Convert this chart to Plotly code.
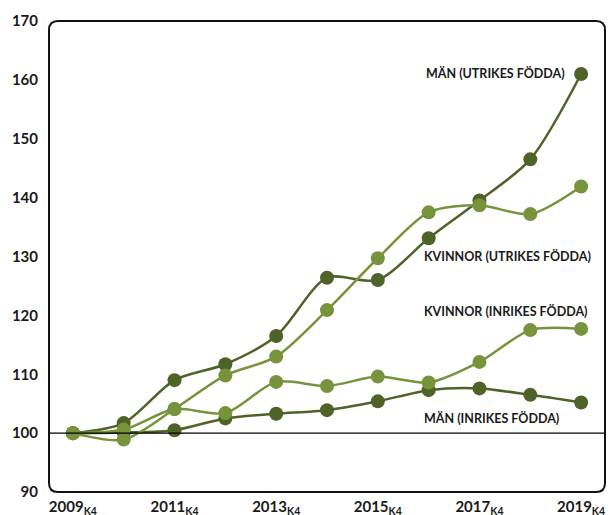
import plotly.graph_objects as go

years = list(range(2009, 2020))
man_utrikes = [100, 101.7, 109.0, 111.7, 116.5, 126.4, 126.0, 133.1, 139.5, 146.5, 161.0]
man_inrikes = [100, 100.1, 100.5, 102.5, 103.3, 103.9, 105.4, 107.3, 107.6, 106.5, 105.2]
kvinnor_inrikes = [100, 100.6, 104.1, 103.4, 108.7, 108.0, 109.6, 108.6, 112.1, 117.5, 117.7]
kvinnor_utrikes = [100, 98.9, 104.1, 109.8, 113.0, 120.9, 129.7, 137.5, 138.7, 137.2, 141.9]

tick_years = [2009, 2011, 2013, 2015, 2017, 2019]
y_ticks = [90, 100, 110, 120, 130, 140, 150, 160, 170]

dark = "#4F6228"
light = "#77933C"
font_family = "Lato, 'Open Sans', sans-serif"

fig = go.Figure()
series = [
    (man_inrikes, dark),
    (man_utrikes, dark),
    (kvinnor_inrikes, light),
    (kvinnor_utrikes, light),
]
for vals, col in series:
    fig.add_trace(go.Scatter(
        x=years, y=vals, mode="lines+markers",
        line=dict(color=col, width=2.5, shape="spline", smoothing=0.8),
        marker=dict(color=col, size=14),
        showlegend=False, cliponaxis=False,
    ))

labels = [
    ("MÄN (UTRIKES FÖDDA)", 2018.73, man_utrikes[-1] + 0.1),
    ("KVINNOR (UTRIKES FÖDDA)", 2015.86, 130.0),
    ("KVINNOR (INRIKES FÖDDA)", 2015.86, 120.7),
    ("MÄN (INRIKES FÖDDA)", 2015.86, 102.5),
]
for text, xv, yv in labels:
    fig.add_annotation(
        x=xv, y=yv, text=f"<b>{text}</b>", showarrow=False,
        xanchor="right" if "MÄN (UTRIKES" in text else "left", yanchor="middle",
        font=dict(family=font_family, size=12.5, color="#1a1a1a"),
    )

# horizontal line at 100
fig.add_shape(type="line", xref="paper", yref="y", x0=0, x1=1, y0=100, y1=100,
              line=dict(color="black", width=1.3))

# rounded frame
rx, ry = 9 / 556, 9 / 471
path = (f"M {rx},0 L {1-rx},0 Q 1,0 1,{ry} L 1,{1-ry} Q 1,1 {1-rx},1 "
        f"L {rx},1 Q 0,1 0,{1-ry} L 0,{ry} Q 0,0 {rx},0 Z")
fig.add_shape(type="path", xref="paper", yref="paper", path=path,
              line=dict(color="#111111", width=2), layer="above")

fig.update_layout(
    width=616, height=515,
    margin=dict(l=49, r=11, t=21, b=23, autoexpand=False),
    paper_bgcolor="white", plot_bgcolor="white",
    font=dict(family=font_family, color="#1a1a1a"),
    xaxis=dict(range=[2008.53, 2019.47], tickvals=tick_years,
               ticktext=[f"<b>{y}<sub>K4</sub></b>" for y in tick_years],
               showgrid=False, zeroline=False, showline=False, ticks="",
               automargin=False, ticklabelstandoff=4,
               tickfont=dict(family=font_family, size=15, color="#1a1a1a"),
               tickangle=0),
    yaxis=dict(range=[90, 170], tickvals=y_ticks,
               ticktext=[f"<b>{v}</b>" for v in y_ticks],
               showgrid=False, zeroline=False, showline=False, ticks="",
               automargin=False, ticklabelstandoff=10,
               tickfont=dict(family=font_family, size=15, color="#1a1a1a")),
)

fig.write_html("out.html", config={"displayModeBar": False},
               post_script="document.body.style.margin='0';document.body.style.overflow='hidden';")
